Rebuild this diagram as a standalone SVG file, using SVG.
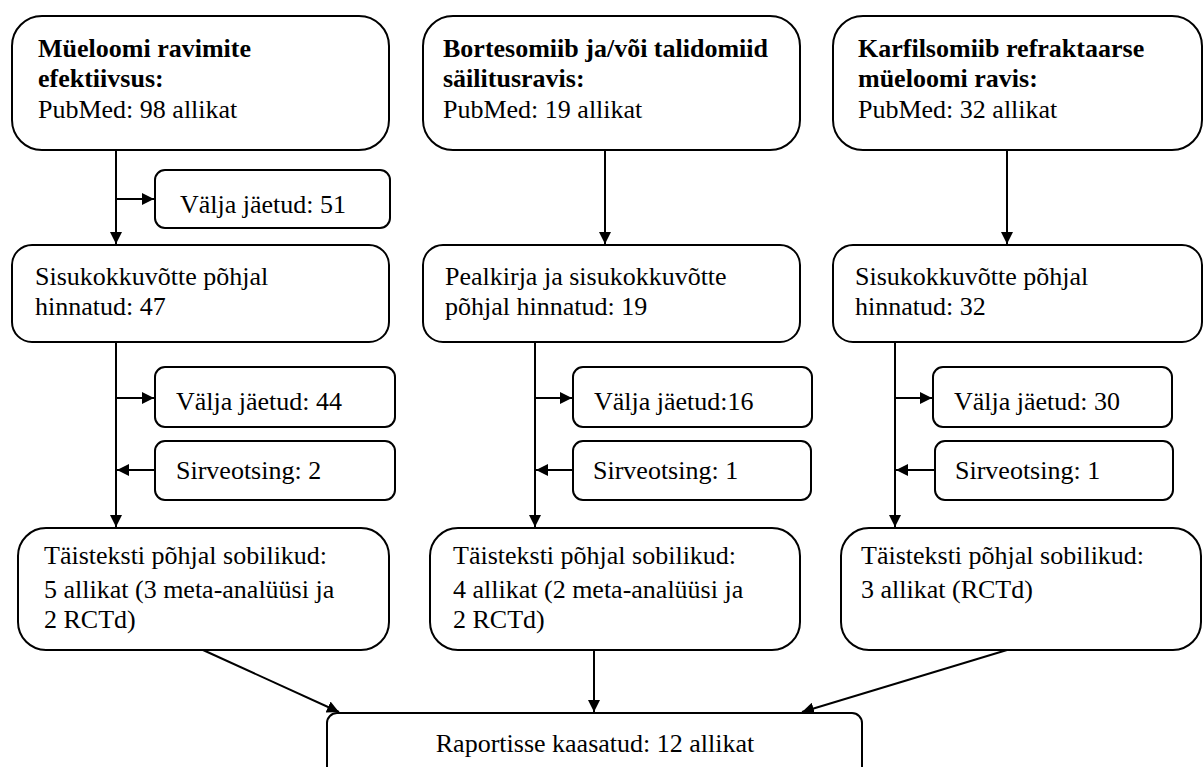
<svg xmlns="http://www.w3.org/2000/svg" width="1203" height="767" viewBox="0 0 1203 767">
<style>
.box{fill:#fff;stroke:#000;stroke-width:2}
.t{font-size:26px;fill:#000}
.b{font-weight:bold}
.c{stroke:#000;stroke-width:2;fill:none}
</style>
<defs>
<marker id="ah" viewBox="0 0 10 10" refX="10" refY="5" markerWidth="6" markerHeight="6" orient="auto" markerUnits="strokeWidth">
<path d="M0,0 L10,5 L0,10 z" fill="#000"/>
</marker>
</defs>
<rect width="1203" height="767" fill="#fff"/>
<g id="connectors">
<line class="c" x1="116" y1="150" x2="116" y2="244" marker-end="url(#ah)"/>
<line class="c" x1="116" y1="199" x2="154" y2="199" marker-end="url(#ah)"/>
<line class="c" x1="116" y1="342" x2="116" y2="527" marker-end="url(#ah)"/>
<line class="c" x1="116" y1="398" x2="154" y2="398" marker-end="url(#ah)"/>
<line class="c" x1="155" y1="470" x2="117" y2="470" marker-end="url(#ah)"/>
<line class="c" x1="605" y1="150" x2="605" y2="244" marker-end="url(#ah)"/>
<line class="c" x1="535" y1="342" x2="535" y2="527" marker-end="url(#ah)"/>
<line class="c" x1="535" y1="398" x2="572" y2="398" marker-end="url(#ah)"/>
<line class="c" x1="573" y1="470" x2="536" y2="470" marker-end="url(#ah)"/>
<line class="c" x1="1007" y1="150" x2="1007" y2="244" marker-end="url(#ah)"/>
<line class="c" x1="895" y1="342" x2="895" y2="527" marker-end="url(#ah)"/>
<line class="c" x1="895" y1="398" x2="932" y2="398" marker-end="url(#ah)"/>
<line class="c" x1="934" y1="470" x2="896" y2="470" marker-end="url(#ah)"/>
<line class="c" x1="203" y1="650" x2="339" y2="712" marker-end="url(#ah)"/>
<line class="c" x1="594" y1="650" x2="594" y2="712" marker-end="url(#ah)"/>
<line class="c" x1="1007" y1="650" x2="802" y2="712" marker-end="url(#ah)"/>
</g>
<g font-family="Liberation Serif, DejaVu Serif, serif">
<g id="n1">
<rect class="box" x="12" y="16" width="377" height="134" rx="30"/>
<text class="t b" x="38" y="57">Müeloomi ravimite</text>
<text class="t b" x="38" y="87">efektiivsus:</text>
<text class="t" x="38" y="118">PubMed: 98 allikat</text>
</g>
<g id="n2">
<rect class="box" x="423" y="16" width="377" height="134" rx="30"/>
<text class="t b" x="443" y="57">Bortesomiib ja/või talidomiid</text>
<text class="t b" x="443" y="87">säilitusravis:</text>
<text class="t" x="443" y="118">PubMed: 19 allikat</text>
</g>
<g id="n3">
<rect class="box" x="833" y="16" width="369" height="134" rx="30"/>
<text class="t b" x="858" y="57">Karfilsomiib refraktaarse</text>
<text class="t b" x="858" y="87">müeloomi ravis:</text>
<text class="t" x="858" y="118">PubMed: 32 allikat</text>
</g>
<g id="n4">
<rect class="box" x="155" y="170" width="235" height="58" rx="10"/>
<text class="t" x="180" y="213">Välja jäetud: 51</text>
</g>
<g id="n5">
<rect class="box" x="12" y="245" width="377" height="97" rx="20"/>
<text class="t" x="35" y="285">Sisukokkuvõtte põhjal</text>
<text class="t" x="35" y="315">hinnatud: 47</text>
</g>
<g id="n6">
<rect class="box" x="423" y="245" width="377" height="97" rx="20"/>
<text class="t" x="445" y="285">Pealkirja ja sisukokkuvõtte</text>
<text class="t" x="445" y="315">põhjal hinnatud: 19</text>
</g>
<g id="n7">
<rect class="box" x="833" y="245" width="369" height="97" rx="20"/>
<text class="t" x="855" y="285">Sisukokkuvõtte põhjal</text>
<text class="t" x="855" y="315">hinnatud: 32</text>
</g>
<g id="n8">
<rect class="box" x="155" y="367" width="240" height="60" rx="10"/>
<text class="t" x="176" y="410">Välja jäetud: 44</text>
</g>
<g id="n9">
<rect class="box" x="155" y="441" width="240" height="59" rx="10"/>
<text class="t" x="176" y="479">Sirveotsing: 2</text>
</g>
<g id="n10">
<rect class="box" x="573" y="367" width="239" height="60" rx="10"/>
<text class="t" x="594" y="410">Välja jäetud:16</text>
</g>
<g id="n11">
<rect class="box" x="573" y="441" width="238" height="59" rx="10"/>
<text class="t" x="593" y="479">Sirveotsing: 1</text>
</g>
<g id="n12">
<rect class="box" x="933" y="367" width="239" height="60" rx="10"/>
<text class="t" x="954" y="410">Välja jäetud: 30</text>
</g>
<g id="n13">
<rect class="box" x="935" y="441" width="238" height="59" rx="10"/>
<text class="t" x="955" y="479">Sirveotsing: 1</text>
</g>
<g id="n14">
<rect class="box" x="18" y="528" width="371" height="122" rx="28"/>
<text class="t" x="44" y="564">Täisteksti põhjal sobilikud:</text>
<text class="t" x="44" y="598">5 allikat (3 meta-analüüsi ja</text>
<text class="t" x="44" y="628">2 RCTd)</text>
</g>
<g id="n15">
<rect class="box" x="430" y="528" width="370" height="122" rx="28"/>
<text class="t" x="453" y="564">Täisteksti põhjal sobilikud:</text>
<text class="t" x="453" y="598">4 allikat (2 meta-analüüsi ja</text>
<text class="t" x="453" y="628">2 RCTd)</text>
</g>
<g id="n16">
<rect class="box" x="841" y="528" width="360" height="122" rx="28"/>
<text class="t" x="861" y="564">Täisteksti põhjal sobilikud:</text>
<text class="t" x="861" y="598">3 allikat (RCTd)</text>
</g>
<g id="n17">
<rect class="box" x="327" y="713" width="535" height="80" rx="10"/>
<text class="t" x="595" y="752" text-anchor="middle">Raportisse kaasatud: 12 allikat</text>
</g>
</g>
</svg>
